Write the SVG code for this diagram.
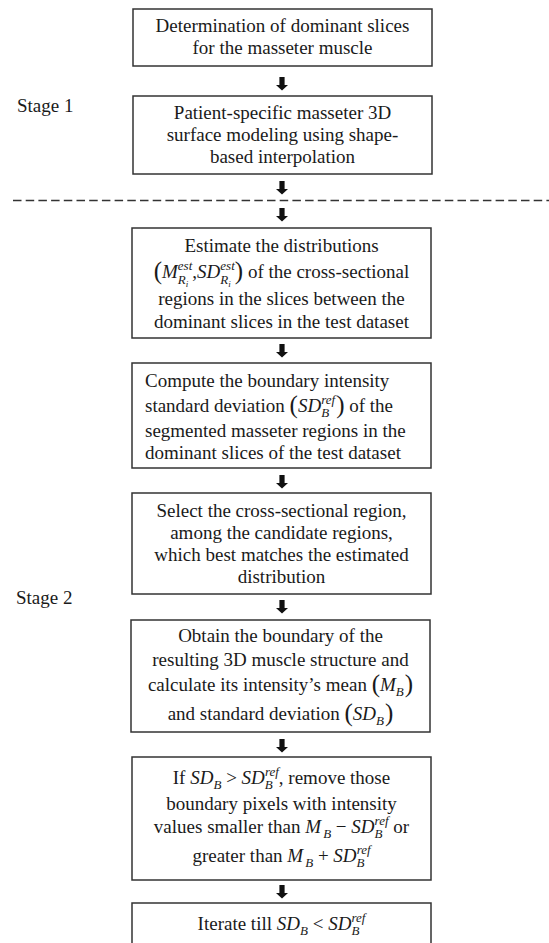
<svg xmlns="http://www.w3.org/2000/svg" width="549" height="943" viewBox="0 0 549 943">
<defs>
<style>
.box{fill:#fff;stroke:#333;stroke-width:1.5}
.t{font-family:"Liberation Serif","Times New Roman",serif;font-size:19px;fill:#1a1a1a}
.c{text-anchor:middle}
.i{font-style:italic}
.s{font-size:13px;font-style:italic}
.ss{font-size:9px;font-style:italic}
.p{font-size:25px}
.arrow{fill:#111}
.dash{stroke:#333;stroke-width:1.3;stroke-dasharray:8.5 4.2;fill:none}
</style>
<path id="arr" d="M-2.6,0 H2.6 V8 H6 L0,13.5 L-6,8 H-2.6 Z"/>
</defs>
<rect width="549" height="943" fill="#fff"/>
<text class="t" x="17" y="112">Stage 1</text>
<text class="t" x="16" y="604">Stage 2</text>
<g id="connectors">
<line class="dash" x1="13" y1="200.5" x2="549" y2="200.5"/>
<use href="#arr" class="arrow" x="282" y="77"/>
<use href="#arr" class="arrow" x="282" y="181"/>
<use href="#arr" class="arrow" x="282" y="208"/>
<use href="#arr" class="arrow" x="282" y="344"/>
<use href="#arr" class="arrow" x="282" y="475"/>
<use href="#arr" class="arrow" x="282" y="600"/>
<use href="#arr" class="arrow" x="282" y="739"/>
<use href="#arr" class="arrow" x="282" y="885"/>
</g>
<g id="n1">
<rect class="box" x="133" y="9" width="299" height="57"/>
<text class="t c" x="282.5" y="32">Determination of dominant slices</text>
<text class="t c" x="282.5" y="54">for the masseter muscle</text>
</g>
<g id="n2">
<rect class="box" x="133" y="96" width="299" height="78"/>
<text class="t c" x="282.5" y="119">Patient-specific masseter 3D</text>
<text class="t c" x="282.5" y="141">surface modeling using shape-</text>
<text class="t c" x="282.5" y="163">based interpolation</text>
</g>
<g id="n3">
<rect class="box" x="132" y="228" width="299" height="110"/>
<text class="t c" x="281.5" y="252">Estimate the distributions</text>
<text class="t c" x="281.5" y="278"><tspan class="p" dy="1">(</tspan><tspan class="i" dy="-1">M</tspan><tspan class="s" dy="-8">est</tspan><tspan class="s" dx="-14.4" dy="14">R</tspan><tspan class="ss" dy="3">i</tspan><tspan dx="4" dy="-9">,</tspan><tspan class="i">SD</tspan><tspan class="s" dy="-8">est</tspan><tspan class="s" dx="-14.4" dy="14">R</tspan><tspan class="ss" dy="3">i</tspan><tspan class="p" dx="4" dy="-8">)</tspan><tspan dy="-1"> of the cross-sectional</tspan></text>
<text class="t c" x="281.5" y="305">regions in the slices between the</text>
<text class="t c" x="281.5" y="328">dominant slices in the test dataset</text>
</g>
<g id="n4">
<rect class="box" x="132" y="363" width="299" height="105"/>
<text class="t" x="145" y="387">Compute the boundary intensity</text>
<text class="t" x="145" y="412">standard deviation <tspan class="p" dy="1">(</tspan><tspan class="i" dy="-1">SD</tspan><tspan class="s" dy="5">B</tspan><tspan class="s" dx="-7.9" dy="-13">ref</tspan><tspan class="p" dx="1" dy="9">)</tspan><tspan dy="-1"> of the</tspan></text>
<text class="t" x="145" y="437">segmented masseter regions in the</text>
<text class="t" x="145" y="459">dominant slices of the test dataset</text>
</g>
<g id="n5">
<rect class="box" x="132" y="493" width="299" height="101"/>
<text class="t c" x="281.5" y="517">Select the cross-sectional region,</text>
<text class="t c" x="281.5" y="539">among the candidate regions,</text>
<text class="t c" x="281.5" y="561">which best matches the estimated</text>
<text class="t c" x="281.5" y="583">distribution</text>
</g>
<g id="n6">
<rect class="box" x="131" y="620" width="299" height="112"/>
<text class="t c" x="280.5" y="642">Obtain the boundary of the</text>
<text class="t c" x="280.5" y="666">resulting 3D muscle structure and</text>
<text class="t c" x="280.5" y="691">calculate its intensity’s mean <tspan class="p" dy="1">(</tspan><tspan class="i" dy="-1">M</tspan><tspan class="s" dy="5">B</tspan><tspan class="p" dx="1" dy="-4">)</tspan></text>
<text class="t c" x="280.5" y="720">and standard deviation <tspan class="p" dy="1">(</tspan><tspan class="i" dy="-1">SD</tspan><tspan class="s" dy="5">B</tspan><tspan class="p" dx="1" dy="-4">)</tspan></text>
</g>
<g id="n7">
<rect class="box" x="132" y="757" width="299" height="123"/>
<text class="t c" x="281.5" y="784">If <tspan class="i">SD</tspan><tspan class="s" dy="5">B</tspan><tspan dy="-5"> &gt; </tspan><tspan class="i">SD</tspan><tspan class="s" dy="5">B</tspan><tspan class="s" dx="-7.9" dy="-13">ref</tspan><tspan dy="8">, remove those</tspan></text>
<text class="t c" x="281.5" y="810">boundary pixels with intensity</text>
<text class="t c" x="281.5" y="833">values smaller than  <tspan class="i">M</tspan><tspan class="s" dx="2" dy="5">B</tspan><tspan dy="-5"> − </tspan><tspan class="i">SD</tspan><tspan class="s" dy="5">B</tspan><tspan class="s" dx="-7.9" dy="-13">ref</tspan><tspan dy="8">  or</tspan></text>
<text class="t c" x="281.5" y="862">greater than  <tspan class="i">M</tspan><tspan class="s" dx="2" dy="5">B</tspan><tspan dy="-5"> + </tspan><tspan class="i">SD</tspan><tspan class="s" dy="5">B</tspan><tspan class="s" dx="-7.9" dy="-13">ref</tspan></text>
</g>
<g id="n8">
<rect class="box" x="132" y="903" width="299" height="50"/>
<text class="t c" x="281.5" y="930">Iterate till  <tspan class="i">SD</tspan><tspan class="s" dy="5">B</tspan><tspan dy="-5"> &lt; </tspan><tspan class="i">SD</tspan><tspan class="s" dy="5">B</tspan><tspan class="s" dx="-7.9" dy="-13">ref</tspan></text>
</g>
</svg>
